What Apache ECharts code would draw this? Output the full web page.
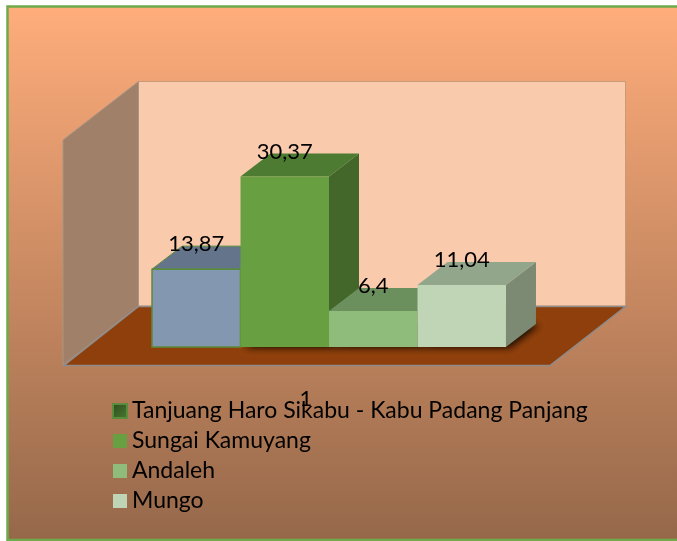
<!DOCTYPE html>
<html><head><meta charset="utf-8">
<style>html,body{margin:0;padding:0;background:#fff}#c{width:677px;height:541px}</style>
<script src="https://cdn.jsdelivr.net/npm/echarts@6/dist/echarts.min.js"></script>
</head><body><div id="c"></div>
<script>
const categories = ['1'];
const seriesNames = ['Tanjuang Haro Sikabu - Kabu Padang Panjang', 'Sungai Kamuyang', 'Andaleh', 'Mungo'];
const seriesValues = [13.87, 30.37, 6.4, 11.04];
const frontColors = ['#8497B0', '#68A041', '#8FBC7A', '#C0D5B6'];
const topColors = ['#64748A', '#4D7B32', '#6C8F5E', '#92A68C'];
const sideColors = ['#4E5B6C', '#43672A', '#5E7D52', '#7C8A74'];
const edgeColors = ['#5B8C3C', '#68A041', '#8FBC7A', '#C0D5B6'];

const DX = 30, DY = -23, BAR_FRACTION = 0.1817;

function renderBar(i) {
  return function (params, api) {
    const base = api.coord([api.value(0), 0]);
    const top = api.coord([api.value(0), api.value(1)]);
    const w = api.size([1, 0])[0] * BAR_FRACTION;
    const x0 = base[0] + (i - seriesValues.length / 2) * w;
    const x1 = x0 + w, y0 = base[1], y1 = top[1];
    const edge = i === 0 ? { stroke: edgeColors[0], lineWidth: 1.5 } : { stroke: 'transparent', lineWidth: 0 };
    const children = [];
    if (i > 0) {
      children.push({
        type: 'polygon',
        shape: { points: [[x0, y0], [x1, y0], [x1 + DX, y0 + DY], [x0 + DX, y0 + DY]] },
        style: { fill: '#2a1206', shadowBlur: 7, shadowOffsetX: 4, shadowOffsetY: 1, shadowColor: 'rgba(20,8,0,0.95)' }
      });
    }
    children.push(
      { type: 'polygon', shape: { points: [[x1, y0], [x1 + DX, y0 + DY], [x1 + DX, y1 + DY], [x1, y1]] }, style: { fill: sideColors[i] } },
      { type: 'polygon', shape: { points: [[x0, y1], [x1, y1], [x1 + DX, y1 + DY], [x0 + DX, y1 + DY]] }, style: Object.assign({ fill: topColors[i] }, i === 0 ? { stroke: edgeColors[0], lineWidth: 1 } : {}) },
      { type: 'rect', shape: { x: x0, y: y1, width: w, height: y0 - y1 }, style: Object.assign({ fill: frontColors[i] }, edge) },
      {
        type: 'text', z2: 100,
        style: {
          x: (x0 + x1) / 2, y: y1 - 25,
          text: String(api.value(1)).replace('.', ','),
          fill: '#000', font: '22px Lato', align: 'center', verticalAlign: 'middle'
        }
      }
    );
    return { type: 'group', children };
  };
}

const legendItems = seriesNames.map(function (name, i) {
  return {
    name: name,
    icon: 'rect',
    itemStyle: i === 0
      ? { color: new echarts.graphic.LinearGradient(0, 0, 1, 1, [{ offset: 0, color: '#2C4A1E' }, { offset: 1, color: '#4A7A30' }]), borderColor: '#5B8C3C', borderWidth: 2 }
      : { color: frontColors[i], borderWidth: 0 }
  };
});

const chart = echarts.init(document.getElementById('c'), null, { renderer: 'canvas' });
chart.setOption({
  animation: false,
  backgroundColor: '#fff',
  graphic: { elements: [
    { type: 'rect', z: -10, shape: { x: 7.5, y: 6.5, width: 680, height: 533.5 },
      style: { fill: new echarts.graphic.LinearGradient(0, 0, 0, 1, [{ offset: 0, color: '#FFAD7B' }, { offset: 1, color: '#95684A' }]), stroke: '#6FAB4A', lineWidth: 2.5 } },
    { type: 'polygon', z: -9, shape: { points: [[138.5, 81.5], [625.5, 81.5], [625.5, 306], [138.5, 306]] },
      style: { fill: '#F9CAAC', stroke: '#C99A78', lineWidth: 1 } },
    { type: 'polygon', z: -9, shape: { points: [[63, 140], [138.5, 81.5], [138.5, 306], [63, 365]] },
      style: { fill: '#A08069', stroke: '#A89584', lineWidth: 1 } },
    { type: 'polygon', z: -9, shape: { points: [[64, 365.5], [138.5, 306.5], [625.5, 306.5], [550, 365.5]] },
      style: { fill: '#8F3F0B', stroke: '#8C8C8C', lineWidth: 1.5 } }
  ] },
  grid: { left: 85.5, width: 487, top: 150.5, bottom: 194 },
  xAxis: {
    type: 'category', data: categories,
    axisLine: { show: false }, axisTick: { show: false },
    axisLabel: { color: '#000', fontFamily: 'Lato', fontSize: 22, margin: 41, padding: [0, 46, 0, 0] }
  },
  yAxis: { type: 'value', min: 0, max: 35, show: false, splitLine: { show: false } },
  legend: {
    orient: 'vertical', left: 112, top: 397, padding: 0,
    itemWidth: 14, itemHeight: 14, itemGap: 2,
    textStyle: { color: '#000', fontFamily: 'Lato', fontSize: 23, lineHeight: 28 },
    data: legendItems
  },
  series: seriesNames.map(function (name, i) {
    return {
      type: 'custom', name: name, coordinateSystem: 'cartesian2d',
      renderItem: renderBar(i),
      encode: { x: 0, y: 1 },
      data: [[0, seriesValues[i]]],
      clip: false
    };
  })
});
</script></body></html>
